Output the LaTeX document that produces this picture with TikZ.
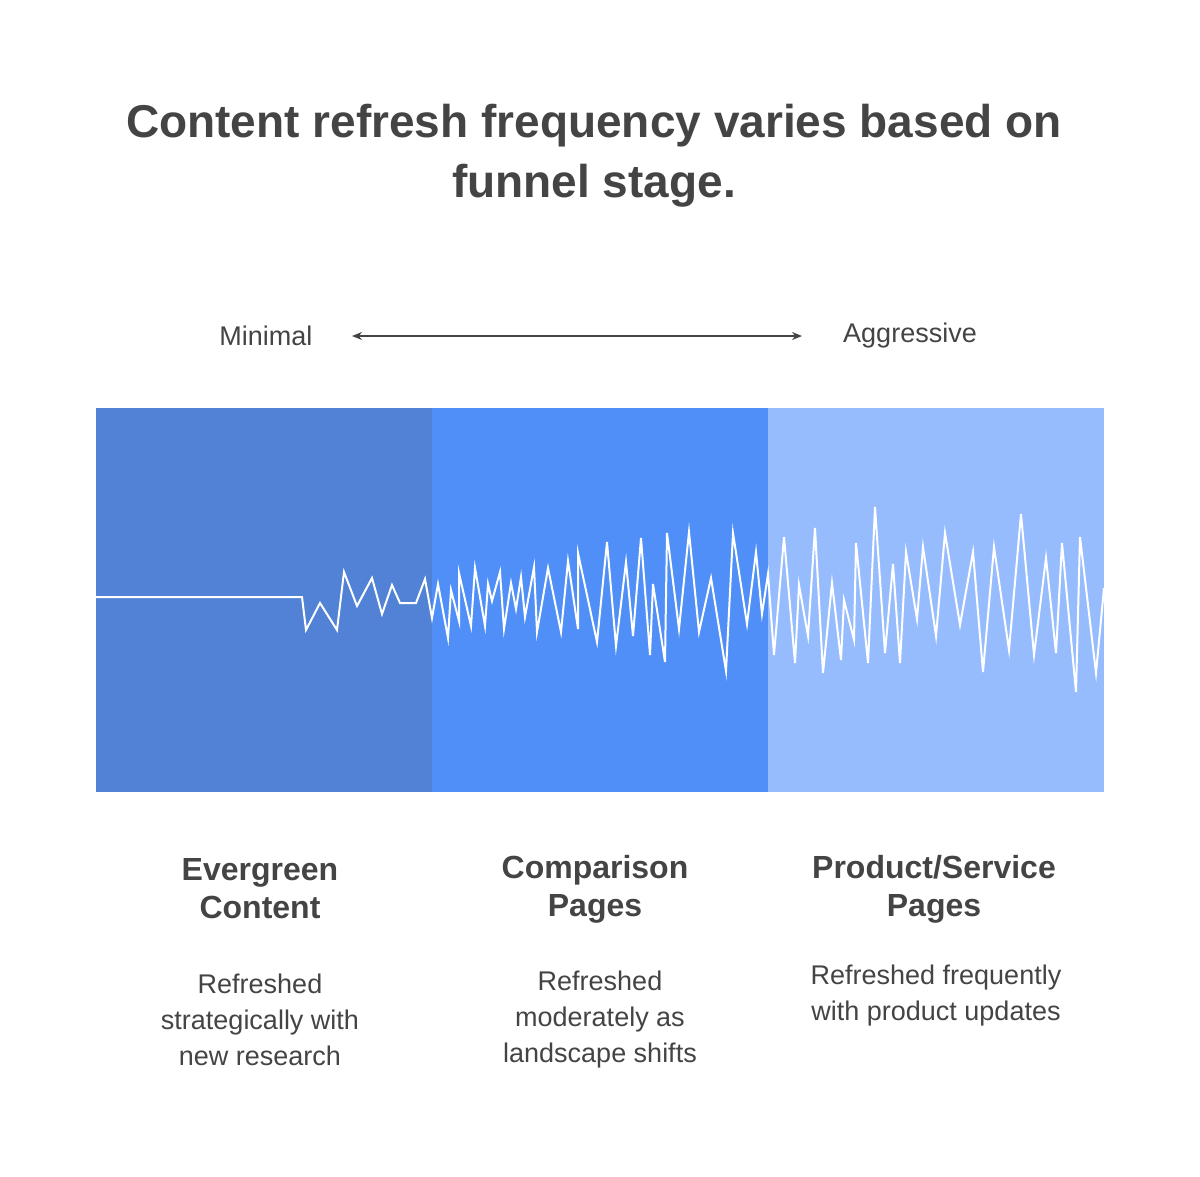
\documentclass[tikz,border=0pt]{standalone}
\usepackage{fontspec}
\setmainfont{Liberation Sans}
\usetikzlibrary{arrows.meta}
\definecolor{txt}{HTML}{444444}
\definecolor{bandA}{HTML}{5182D6}
\definecolor{bandB}{HTML}{4F8FF7}
\definecolor{bandC}{HTML}{97BCFE}
\tikzset{head/.style={font=\fontsize{32}{38}\selectfont\bfseries,text=txt,align=center},
desc/.style={font=\fontsize{27}{36}\selectfont,text=txt,align=center}}
\begin{document}
\begin{tikzpicture}[x=1pt,y=-1pt]
\useasboundingbox (0,0) rectangle (1200,1176);
\node[font=\fontsize{46}{60}\selectfont\bfseries,text=txt,align=center] (title) at (594,156) {Content refresh frequency varies based on\\funnel stage.};
\node[font=\fontsize{27}{32}\selectfont,text=txt] (min) at (266,336) {Minimal};
\node[font=\fontsize{27}{32}\selectfont,text=txt] (agg) at (910,336) {Aggressive};
\coordinate (l) at (352,336); \coordinate (r) at (802,336);
\draw[txt,line width=1.5pt,{Stealth[length=10pt,width=8pt]}-{Stealth[length=10pt,width=8pt]}] (l) -- (r);
\fill[bandA] (96,408) rectangle (432,792);
\fill[bandB] (432,408) rectangle (768,792);
\fill[bandC] (768,408) rectangle (1104,792);
\draw[white,line width=2pt,line join=miter] (96,597) -- (302,597) -- (306,630) -- (320,603) -- (337,630) -- (344,572) -- (357,606) -- (372,578) -- (382,614) -- (392,585) -- (400,603) -- (416,603) -- (425,579) -- (432,618) -- (438,584) -- (448,638) -- (451,590) -- (459,621) -- (459,573) -- (471,626) -- (475,568) -- (485,626) -- (488,584) -- (492,601) -- (500,572) -- (504,629) -- (511,583) -- (516,609) -- (521,577) -- (525,617) -- (534,567) -- (537,632) -- (548,568) -- (561,632) -- (568,561) -- (578,629) -- (578,553) -- (597,642) -- (607,542) -- (616,646) -- (626,562) -- (633,636) -- (641,538) -- (650,655) -- (653,584) -- (665,662) -- (667,533) -- (679,629) -- (689,532) -- (699,632) -- (711,578) -- (726,671) -- (733,533) -- (747,624) -- (756,552) -- (762,614) -- (768,574) -- (774,655) -- (784,537) -- (795,663) -- (799,585) -- (808,636) -- (815,528) -- (823,673) -- (832,583) -- (841,660) -- (844,600) -- (854,640) -- (856,543) -- (868,663) -- (875,507) -- (885,653) -- (893,564) -- (900,663) -- (906,552) -- (917,619) -- (923,547) -- (936,636) -- (945,533) -- (960,625) -- (973,552) -- (983,672) -- (994,547) -- (1009,650) -- (1021,514) -- (1034,655) -- (1046,558) -- (1056,653) -- (1062,543) -- (1076,692) -- (1080,537) -- (1096,673) -- (1104,588);
\node[head] (h1) at (260,889) {Evergreen\\Content};
\node[head] (h2) at (595,889) {Comparison\\Pages};
\node[head] (h3) at (934,889) {Product/Service\\Pages};
\node[desc] (d1) at (260,1020) {Refreshed\\strategically with\\new research};
\node[desc] (d2) at (600,1020) {Refreshed\\moderately as\\landscape shifts};
\node[desc] (d3) at (936,996) {Refreshed frequently\\with product updates};
\end{tikzpicture}
\end{document}
